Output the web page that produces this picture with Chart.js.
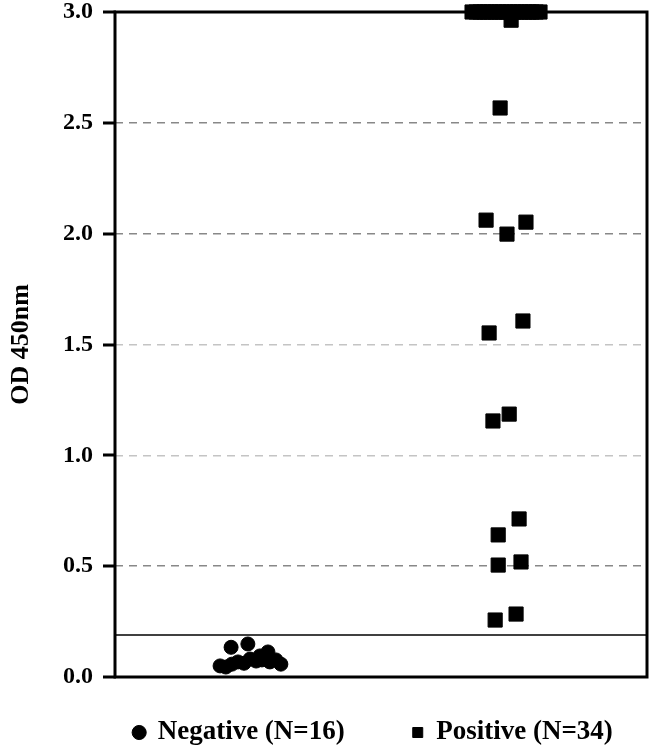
<!DOCTYPE html>
<html>
<head>
<meta charset="utf-8">
<script src="https://cdn.jsdelivr.net/npm/chart.js@4"></script>
<style>
  html, body { margin: 0; padding: 0; background: #fff; }
  #wrap { width: 650px; height: 749px; }
</style>
</head>
<body>
<div id="wrap"><canvas id="odChart"></canvas></div>
<script>
// groups: x centre 1 = Negative, 2 = Positive (x values carry the jitter)
const groups = ['Negative (N=16)', 'Positive (N=34)'];

const negX = [0.964, 0.985, 1.007, 1.029, 1.051, 1.073, 1.095, 1.109,
              1.131, 1.145, 1.167, 1.185, 1.004, 1.065, 1.138, 1.116];
const negY = [0.050, 0.045, 0.058, 0.068, 0.062, 0.081, 0.072, 0.095,
              0.081, 0.068, 0.077, 0.058, 0.134, 0.149, 0.113, 0.077];

const posX = [1.880, 1.895, 1.909, 1.924, 1.935, 1.949, 1.964, 1.978, 1.989, 2.004,
              2.018, 2.033, 2.044, 2.058, 2.073, 2.087, 2.098, 2.113, 2.127,
              2.022, 1.982, 1.931, 2.007, 2.076, 2.065, 1.942, 2.015, 1.956,
              2.051, 1.975, 1.975, 2.058, 1.964, 2.040];
const posY = [3.0, 3.0, 3.0, 3.0, 3.0, 3.0, 3.0, 3.0, 3.0, 3.0,
              3.0, 3.0, 3.0, 3.0, 3.0, 3.0, 3.0, 3.0, 3.0,
              2.963, 2.567, 2.061, 1.998, 2.052, 1.606, 1.552, 1.186, 1.155,
              0.713, 0.641, 0.505, 0.519, 0.257, 0.284];

const yTicks = [0, 0.5, 1.0, 1.5, 2.0, 2.5, 3.0];
const cutoff = 0.19;

const serif = "'Liberation Serif', 'Times New Roman', serif";

function pts(xs, ys) {
  return xs.map((x, i) => ({ x: x, y: ys[i] }));
}

// black box round the plot, tick marks and the cut-off line
const framePlugin = {
  id: 'frame',
  afterLayout(chart) {
    // legend padding is wide for item spacing; pull the row up and
    // centre it under the plot instead of the whole canvas
    const lg = chart.legend;
    lg.top -= 26;
    lg.bottom -= 26;
    lg.left += 50;
    lg.right += 50;
  },
  afterDraw(chart) {
    const { ctx, chartArea: a, scales } = chart;
    ctx.save();
    ctx.fillStyle = '#000';
    yTicks.forEach(v => {
      const py = Math.round(scales.y.getPixelForValue(v));
      ctx.fillRect(a.left - 12, py - 1.5, 13, 3);
    });
    ctx.restore();
  },
  beforeDatasetsDraw(chart) {
    const { ctx, chartArea: a, scales } = chart;
    ctx.save();
    ctx.strokeStyle = '#000';

    const yc = scales.y.getPixelForValue(cutoff);
    ctx.lineWidth = 1.5;
    ctx.beginPath();
    ctx.moveTo(a.left, yc);
    ctx.lineTo(a.right, yc);
    ctx.stroke();

    ctx.lineWidth = 3;
    ctx.strokeRect(a.left, a.top, a.right - a.left, a.bottom - a.top);
    ctx.restore();
  }
};

new Chart(document.getElementById('odChart'), {
  type: 'scatter',
  data: {
    datasets: [
      {
        label: groups[0],
        data: pts(negX, negY),
        pointStyle: 'circle',
        pointRadius: 7,
        pointHoverRadius: 7,
        backgroundColor: '#000',
        borderColor: '#000',
        clip: false
      },
      {
        label: groups[1],
        data: pts(posX, posY),
        pointStyle: 'rect',
        pointRadius: 10,
        pointHoverRadius: 10,
        backgroundColor: '#000',
        borderColor: '#000',
        clip: false
      }
    ]
  },
  options: {
    responsive: true,
    maintainAspectRatio: false,
    animation: false,
    layout: { autoPadding: false, padding: { top: 0, right: 3, bottom: -33, left: 0 } },
    plugins: {
      tooltip: { enabled: false },
      legend: {
        position: 'bottom',
        labels: {
          usePointStyle: true,
          boxWidth: 10,
          boxHeight: 10,
          padding: 68,
          color: '#000',
          font: { family: serif, size: 27, weight: 'bold' }
        }
      }
    },
    scales: {
      x: {
        type: 'linear',
        display: false,
        min: 0.582,
        max: 2.516
      },
      y: {
        min: 0,
        max: 3,
        afterBuildTicks(s) { s.ticks = yTicks.map(v => ({ value: v })); },
        afterFit(s) { s.width = 115; },
        border: { display: false, dash: [8, 6] },
        grid: {
          color(c) {
            const v = c.tick ? c.tick.value : null;
            if (v === 0 || v === 3) return 'rgba(0,0,0,0)';
            if (v === 1 || v === 1.5) return '#c4c4c4';
            return '#888';
          },
          lineWidth: 1.5,
          drawTicks: true,
          tickLength: 22,
          tickColor: 'rgba(0,0,0,0)'
        },
        ticks: {
          padding: 0,
          color: '#000',
          font: { family: serif, size: 24, weight: 'bold', lineHeight: 1.0 },
          callback: v => Number(v).toFixed(1)
        },
        title: {
          display: true,
          text: 'OD 450nm',
          color: '#000',
          padding: { top: 6, bottom: 0 },
          font: { family: serif, size: 26, weight: 'bold' }
        }
      }
    }
  },
  plugins: [framePlugin]
});
</script>
</body>
</html>
